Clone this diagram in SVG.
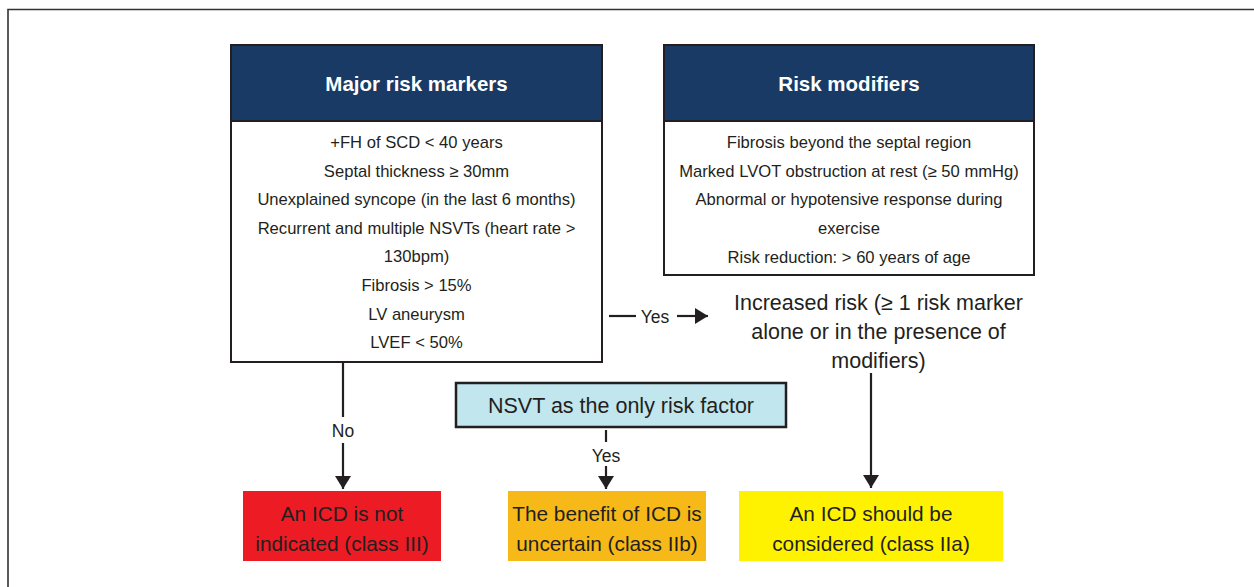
<svg xmlns="http://www.w3.org/2000/svg" width="1254" height="587" viewBox="0 0 1254 587">
<style>
text{font-family:"Liberation Sans",Arial,sans-serif;fill:#231f20;text-anchor:middle}
.hdr{fill:#183a65}
.box{fill:#fff;stroke:#231f20;stroke-width:2}
.sep{stroke:#231f20;stroke-width:2}
.title{font-weight:bold;font-size:20.5px;fill:#fff}
.body{font-size:16.6px}
.big{font-size:21.5px}
.res{font-size:20.8px}
.lbl{font-size:17.5px}
.con{stroke:#231f20;stroke-width:2.2;fill:none}
</style>
<defs>
<marker id="arr" markerUnits="userSpaceOnUse" viewBox="0 0 13 16" refX="13" refY="8" markerWidth="13" markerHeight="16" orient="auto">
<path d="M0,0 L13,8 L0,16 Z" fill="#231f20"/>
</marker>
</defs>
<path d="M8,587 V9.5 H1254" fill="none" stroke="#333" stroke-width="1.6"/>

<g id="major">
<rect class="box" x="231" y="45" width="371" height="317"/>
<rect class="hdr" x="232" y="46" width="369" height="75"/>
<line class="sep" x1="231" y1="121" x2="602" y2="121"/>
<text class="title" x="416.5" y="91">Major risk markers</text>
<text class="body" x="416.5" y="148">+FH of SCD &lt; 40 years</text>
<text class="body" x="416.5" y="176.5">Septal thickness ≥ 30mm</text>
<text class="body" x="416.5" y="205">Unexplained syncope (in the last 6 months)</text>
<text class="body" x="416.5" y="233.5">Recurrent and multiple NSVTs (heart rate &gt;</text>
<text class="body" x="416.5" y="262">130bpm)</text>
<text class="body" x="416.5" y="291">Fibrosis &gt; 15%</text>
<text class="body" x="416.5" y="319.5">LV aneurysm</text>
<text class="body" x="416.5" y="348">LVEF &lt; 50%</text>
</g>

<g id="modifiers">
<rect class="box" x="664" y="45" width="370" height="230"/>
<rect class="hdr" x="665" y="46" width="368" height="75"/>
<line class="sep" x1="664" y1="121" x2="1034" y2="121"/>
<text class="title" x="849" y="91">Risk modifiers</text>
<text class="body" x="849" y="148">Fibrosis beyond the septal region</text>
<text class="body" x="849" y="176.5">Marked LVOT obstruction at rest (≥ 50 mmHg)</text>
<text class="body" x="849" y="205">Abnormal or hypotensive response during</text>
<text class="body" x="849" y="234">exercise</text>
<text class="body" x="849" y="263">Risk reduction: &gt; 60 years of age</text>
</g>

<g id="increased">
<text class="big" x="878.5" y="309.5">Increased risk (≥ 1 risk marker</text>
<text class="big" x="878.5" y="338.5">alone or in the presence of</text>
<text class="big" x="878.5" y="367.5">modifiers)</text>
</g>

<g id="nsvt">
<rect x="456" y="383" width="330" height="44" fill="#c2e6ee" stroke="#231f20" stroke-width="2.5"/>
<text class="big" x="621" y="412.5">NSVT as the only risk factor</text>
</g>

<g id="class3">
<rect x="243" y="491" width="198" height="70" fill="#ed1c24"/>
<text class="res" x="342" y="520.5">An ICD is not</text>
<text class="res" x="342" y="550.5">indicated (class III)</text>
</g>

<g id="class2b">
<rect x="508" y="491" width="198" height="70" fill="#f7b918"/>
<text class="res" x="607" y="520.5">The benefit of ICD is</text>
<text class="res" x="607" y="550.5">uncertain (class IIb)</text>
</g>

<g id="class2a">
<rect x="739" y="491" width="264" height="70" fill="#fff200"/>
<text class="res" x="871" y="520.5">An ICD should be</text>
<text class="res" x="871" y="550.5">considered (class IIa)</text>
</g>

<g id="connectors">
<line class="con" x1="609" y1="316" x2="636" y2="316"/>
<text class="lbl" x="655" y="322.5">Yes</text>
<line class="con" x1="677" y1="316" x2="708" y2="316" marker-end="url(#arr)"/>

<line class="con" x1="343" y1="362" x2="343" y2="417"/>
<text class="lbl" x="343" y="437">No</text>
<line class="con" x1="343" y1="443" x2="343" y2="489" marker-end="url(#arr)"/>

<line class="con" x1="606" y1="430" x2="606" y2="442"/>
<text class="lbl" x="606" y="461.5">Yes</text>
<line class="con" x1="606" y1="466" x2="606" y2="489" marker-end="url(#arr)"/>

<line class="con" x1="871" y1="373" x2="871" y2="488" marker-end="url(#arr)"/>
</g>
</svg>
